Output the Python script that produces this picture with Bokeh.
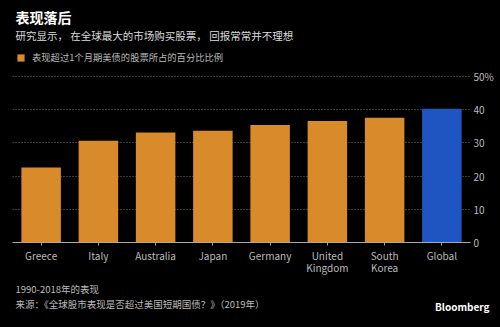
from bokeh.plotting import figure
from bokeh.models import (FactorRange, Range1d, LinearAxis, Legend, LegendItem,
                          ColumnDataSource, FixedTicker, Title)
from bokeh.embed import file_html
from bokeh.resources import INLINE

countries = ["Greece", "Italy", "Australia", "Japan", "Germany", "United\nKingdom", "South\nKorea", "Global"]
share = [22.6, 30.7, 33.2, 33.7, 35.4, 36.6, 37.6, 40.3]
colors = ["#D98A2B"] * 7 + ["#1F55C1"]
y_ticks = [0, 10, 20, 30, 40, 50]
y_tick_labels = ["0", "10", "20", "30", "40", "50%"]

title = "表现落后"
subtitle = "研究显示， 在全球最大的市场购买股票， 回报常常并不理想"
legend_label = "表现超过1个月期美债的股票所占的百分比比例"
note1 = "1990-2018年的表现"
note2 = "来源：《全球股市表现是否超过美国短期国债？》（2019年）"
brand = "Bloomberg"

FONT = "Noto Sans CJK SC"
BG = "#000000"

src = ColumnDataSource(dict(x=countries, top=share, color=colors))

p = figure(width=500, height=327, output_backend="svg", toolbar_location=None,
           x_range=FactorRange(*countries, range_padding=0), y_range=Range1d(0, 60.9),
           x_axis_location="below", y_axis_location=None,
           min_border_left=12, min_border_right=30, min_border_top=0, min_border_bottom=85,
           background_fill_color=BG, border_fill_color=BG)
p.outline_line_color = None
p.styles = {"background-color": BG}

bars = p.vbar(x="x", top="top", width=0.69, color="color", source=src, line_color=None)

# right axis
ra = LinearAxis(ticker=FixedTicker(ticks=y_ticks))
ra.major_label_overrides = {t: l for t, l in zip(y_ticks, y_tick_labels)}
ra.axis_line_color = None
ra.major_tick_line_color = None
ra.major_tick_out = 0
ra.major_tick_in = 0
ra.minor_tick_line_color = None
ra.major_label_text_color = "#bbbbbb"
ra.major_label_text_font = FONT
ra.major_label_text_font_size = "10px"
ra.major_label_standoff = 3
p.add_layout(ra, "right")

p.ygrid.ticker = FixedTicker(ticks=y_ticks)
p.ygrid.grid_line_color = "#777777"
p.ygrid.grid_line_dash = "1 2"
p.xgrid.visible = False

xa = p.xaxis[0]
xa.axis_line_color = "#aaaaaa"
xa.major_tick_line_color = "#aaaaaa"
xa.major_tick_in = 0
xa.major_tick_out = 3
xa.minor_tick_line_color = None
xa.major_label_text_color = "#bbbbbb"
xa.major_label_text_font = FONT
xa.major_label_text_font_size = "10px"
xa.major_label_text_line_height = 0.85
xa.major_label_standoff = 2

# legend inside the (invisible) upper part of the frame
leg = Legend(items=[LegendItem(label=legend_label, renderers=[bars], index=0)],
             location=(4, 178),
             background_fill_alpha=0, border_line_color=None,
             label_text_color="#bbbbbb", label_text_font=FONT, label_text_font_size="9.3px",
             glyph_width=9, glyph_height=9, label_height=12, padding=0, margin=0,
             spacing=0, label_standoff=7)
p.add_layout(leg)

# above: subtitle (closest to frame), title (outermost)
p.add_layout(Title(text=subtitle, text_font=FONT, text_font_size="10.5px", text_color="#dddddd",
                   text_font_style="normal", align="left", offset=3, standoff=-8,
                   vertical_align="top"), "above")
p.add_layout(Title(text=title, text_font=FONT, text_font_size="14px", text_color="#ffffff",
                   text_font_style="bold", align="left", offset=3, standoff=9), "above")

# below: notes and brand
p.add_layout(Title(text=note1, text_font=FONT, text_font_size="9.5px", text_color="#bbbbbb",
                   text_font_style="normal", align="left", offset=3, standoff=3), "below")
p.add_layout(Title(text=note2, text_font=FONT, text_font_size="9.5px", text_color="#bbbbbb",
                   text_font_style="normal", align="left", offset=3, standoff=-1,
                   vertical_align="top"), "below")
p.add_layout(Title(text=brand, text_font=FONT, text_font_size="10px", text_color="#ffffff",
                   text_font_style="bold", align="right", offset=-19, standoff=-27,
                   vertical_align="top"), "below")

open("out.html", "w").write(file_html(p, INLINE))
